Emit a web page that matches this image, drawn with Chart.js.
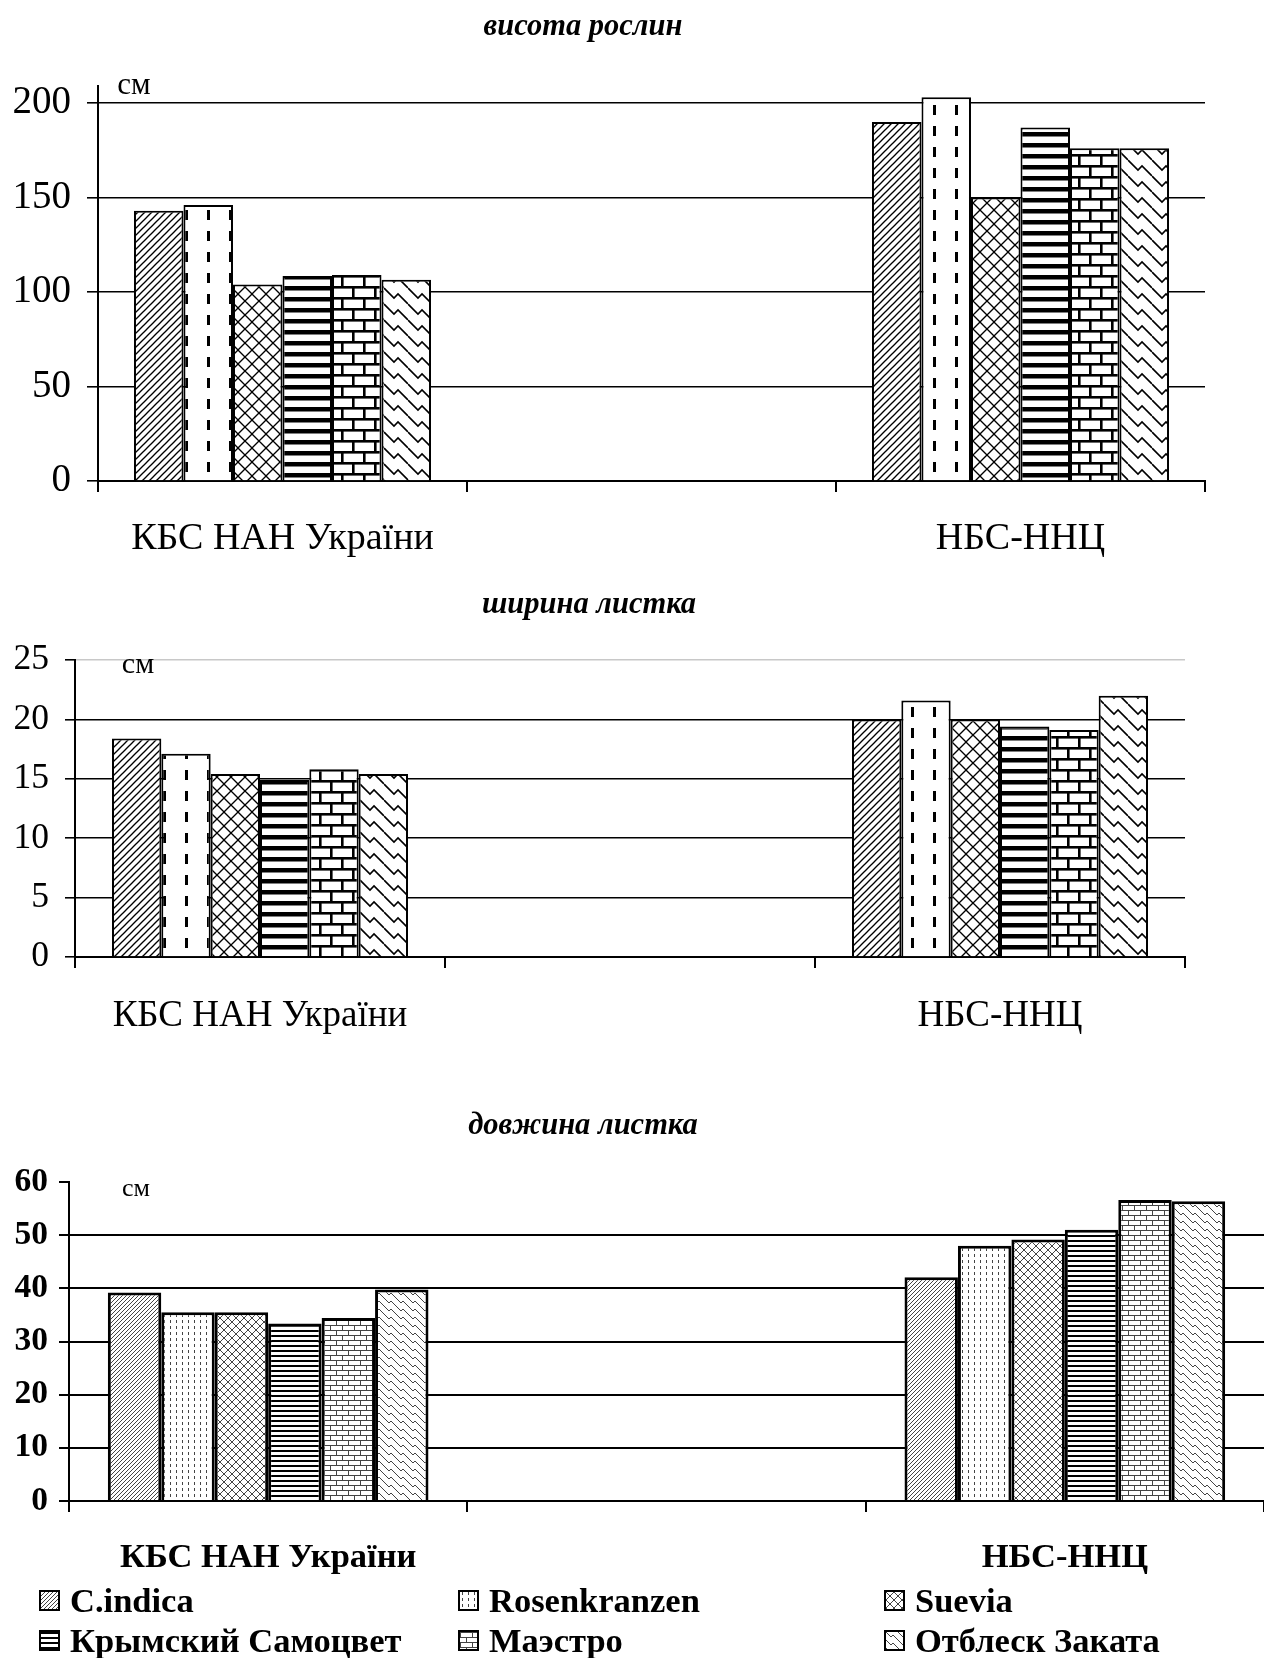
<!DOCTYPE html>
<html>
<head>
<meta charset="utf-8">
<script src="https://cdn.jsdelivr.net/npm/chart.js@4.4.1/dist/chart.umd.min.js"></script>
<style>
body { margin: 0; background: #fff; }
#page { position: relative; width: 1264px; height: 1658px; overflow: hidden; font-family: "Liberation Serif", serif; }
canvas.chart { position: absolute; left: 0; }
.item { position: absolute; display: flex; align-items: center; font-weight: bold; font-size: 34.5px; line-height: 1; white-space: nowrap; }
.item canvas { border: 2px solid #000; margin-right: 10px; }
</style>
</head>
<body>
<div id="page">
  <canvas id="c1" class="chart" width="1264" height="560" style="top:0"></canvas>
  <canvas id="c2" class="chart" width="1264" height="490" style="top:560px"></canvas>
  <canvas id="c3" class="chart" width="1264" height="608" style="top:1050px"></canvas>
</div>
<script>
// data
var groups = ['КБС НАН України', '', 'НБС-ННЦ'];
var varieties = ['C.indica', 'Rosenkranzen', 'Suevia', 'Крымский Самоцвет', 'Маэстро', 'Отблеск Заката'];

var heightKbs = [143, 146, 104, 108.5, 109, 106.5];
var heightNbs = [190, 203, 150, 187, 176, 176];

var widthKbs = [18.4, 17.1, 15.4, 14.9, 15.8, 15.4];
var widthNbs = [20.0, 21.6, 20.0, 19.4, 19.1, 22.0];

var lengthKbs = [39.2, 35.5, 35.5, 33.4, 34.4, 39.8];
var lengthNbs = [42.1, 48.0, 49.2, 51.0, 56.6, 56.4];

var serif = 'Liberation Serif';

// hatch fills
function tile(w, h, draw) {
  var c = document.createElement('canvas');
  c.width = w; c.height = h;
  var g = c.getContext('2d');
  g.fillStyle = '#fff';
  g.fillRect(0, 0, w, h);
  draw(g, w, h);
  return g.createPattern(c, 'repeat');
}
function seg(g, pts) {
  g.beginPath();
  g.moveTo(pts[0], pts[1]);
  for (var i = 2; i < pts.length; i += 2) g.lineTo(pts[i], pts[i + 1]);
  g.stroke();
}

function coarse(kind) {
  if (kind == 0) return tile(7, 7, function (g) {
    g.lineWidth = 1.3;
    seg(g, [0, 7, 7, 0]); seg(g, [-1, 1, 1, -1]); seg(g, [6, 8, 8, 6]);
  });
  if (kind == 1) return tile(22, 21, function (g) {
    g.fillStyle = '#000'; g.fillRect(9, 0, 3, 10);
  });
  if (kind == 2) return tile(14, 14, function (g) {
    g.lineWidth = 1.3;
    seg(g, [0, 0, 14, 14]); seg(g, [0, 14, 14, 0]);
  });
  if (kind == 3) return tile(4, 11, function (g) {
    g.fillStyle = '#000'; g.fillRect(0, 0, 4, 4.5);
  });
  if (kind == 4) return tile(22, 22, function (g) {
    g.lineWidth = 2.6;
    seg(g, [0, 1.3, 22, 1.3]); seg(g, [0, 12.3, 22, 12.3]);
    seg(g, [1.3, 0, 1.3, 11]); seg(g, [12.3, 11, 12.3, 22]);
  });
  return tile(24, 16, function (g) {
    g.lineWidth = 1.6;
    for (var dy = -16; dy <= 16; dy += 16) seg(g, [0, dy, 10, 10 + dy, 14, 6 + dy, 24, 16 + dy]);
  });
}

function fine(kind) {
  var ink = '#444';
  if (kind == 0) return tile(4, 4, function (g) {
    g.strokeStyle = ink; g.lineWidth = 1;
    seg(g, [0, 4, 4, 0]); seg(g, [-1, 1, 1, -1]); seg(g, [3, 5, 5, 3]);
  });
  if (kind == 1) return tile(6, 6, function (g) {
    g.fillStyle = ink; g.fillRect(2, 0, 1, 3);
  });
  if (kind == 2) return tile(8, 8, function (g) {
    g.strokeStyle = ink; g.lineWidth = 1;
    seg(g, [0, 0, 8, 8]); seg(g, [0, 8, 8, 0]);
  });
  if (kind == 3) return tile(4, 5, function (g) {
    g.fillStyle = '#000'; g.fillRect(0, 0, 4, 2);
  });
  if (kind == 4) return tile(12, 10, function (g) {
    g.strokeStyle = ink; g.lineWidth = 1;
    seg(g, [0, 0.5, 12, 0.5]); seg(g, [0, 5.5, 12, 5.5]);
    seg(g, [0.5, 0, 0.5, 5]); seg(g, [6.5, 5, 6.5, 10]);
  });
  return tile(12, 8, function (g) {
    g.strokeStyle = ink; g.lineWidth = 1;
    for (var dy = -8; dy <= 8; dy += 8) seg(g, [0, dy, 5, 5 + dy, 7, 3 + dy, 12, 8 + dy]);
  });
}

// titles, unit label
var decor = {
  id: 'decor',
  afterDraw: function (chart, args, o) {
    var ctx = chart.ctx, a = chart.chartArea;
    ctx.save();
    ctx.fillStyle = '#000';
    ctx.textAlign = 'center';
    ctx.textBaseline = 'middle';
    ctx.font = 'italic bold 30.5px "' + serif + '"';
    ctx.fillText(o.title, o.titleX, o.titleY);
    ctx.font = o.unitFont;
    ctx.fillText('см', o.unitX, o.unitY);
    if (o.overhang) {
      ctx.strokeStyle = '#000';
      ctx.lineWidth = 2;
      ctx.beginPath();
      ctx.moveTo(a.left, a.top);
      ctx.lineTo(a.left, a.top - o.overhang);
      ctx.stroke();
    }
    ctx.restore();
  }
};

function makeChart(id, kbs, nbs, s) {
  var datasets = varieties.map(function (name, i) {
    return {
      label: name,
      data: [kbs[i], null, nbs[i]],
      backgroundColor: s.fill(i),
      borderColor: '#000',
      borderWidth: s.border,
      borderSkipped: 'bottom',
      categoryPercentage: s.cat,
      barPercentage: 1,
      clip: false
    };
  });
  return new Chart(document.getElementById(id), {
    type: 'bar',
    data: { labels: groups, datasets: datasets },
    plugins: [decor],
    options: {
      responsive: false,
      animation: false,
      layout: { padding: s.pad },
      plugins: {
        legend: { display: false },
        title: { display: false },
        tooltip: { enabled: false },
        decor: s.decor
      },
      scales: {
        x: {
          offset: true,
          grid: { drawOnChartArea: false, offset: true, color: '#000', lineWidth: 2, tickLength: 11 },
          border: { color: '#000', width: 2 },
          ticks: { color: '#000', font: s.xFont, padding: s.xPad, maxRotation: 0, autoSkip: false },
          afterFit: function (sc) { sc.height = s.xHeight; }
        },
        y: {
          min: 0, max: s.max,
          ticks: { stepSize: s.step, color: '#000', font: s.yFont, padding: s.yPad },
          grid: {
            color: function (c) { return s.gridColor(c.tick.value); },
            lineWidth: s.gridWidth, tickLength: s.yTick, tickColor: '#000'
          },
          border: { color: '#000', width: 2 },
          afterFit: function (sc) { sc.width = s.yWidth; }
        }
      }
    }
  });
}

makeChart('c1', heightKbs, heightNbs, {
  fill: coarse, border: 2, cat: 0.805, max: 200, step: 50,
  pad: { left: 0, right: 59, top: 103, bottom: 0 },
  xHeight: 79, yWidth: 98, yTick: 11, yPad: 16, xPad: 24, gridWidth: 1.6,
  xFont: { family: serif, size: 38 }, yFont: { family: serif, size: 39 },
  gridColor: function () { return '#000'; },
  decor: { title: 'висота рослин', titleX: 583, titleY: 27, unitFont: '31px "' + serif + '"', unitX: 134, unitY: 86, overhang: 18 }
});

makeChart('c2', widthKbs, widthNbs, {
  fill: coarse, border: 2, cat: 0.80, max: 25, step: 5,
  pad: { left: 0, right: 79, top: 100, bottom: 0 },
  xHeight: 93, yWidth: 75, yTick: 10, yPad: 16, xPad: 26, gridWidth: 1.6,
  xFont: { family: serif, size: 37 }, yFont: { family: serif, size: 35.5 },
  gridColor: function (v) { return v === 25 ? '#c8c8c8' : '#000'; },
  decor: { title: 'ширина листка', titleX: 589, titleY: 45, unitFont: '30px "' + serif + '"', unitX: 138, unitY: 105 }
});

makeChart('c3', lengthKbs, lengthNbs, {
  fill: fine, border: 3, cat: 0.805, max: 60, step: 10,
  pad: { left: 0, right: 0, top: 132, bottom: 0 },
  xHeight: 157, yWidth: 69, yTick: 10, yPad: 11, xPad: 25, gridWidth: 2,
  xFont: { family: serif, size: 34.5, weight: 'bold' }, yFont: { family: serif, size: 33.5, weight: 'bold' },
  gridColor: function (v) { return v === 60 ? 'rgba(0,0,0,0)' : '#000'; },
  decor: { title: 'довжина листка', titleX: 583, titleY: 76, unitFont: '26px "' + serif + '"', unitX: 136, unitY: 139 }
});

// legend below the third chart, three columns
var legendCols = [39, 458, 884];
var legendRows = [1600, 1640];
var page = document.getElementById('page');
varieties.forEach(function (name, i) {
  var item = document.createElement('div');
  item.className = 'item';
  item.style.left = legendCols[i % 3] + 'px';
  item.style.top = (legendRows[Math.floor(i / 3)] - 17) + 'px';
  item.style.height = '34px';
  var sw = document.createElement('canvas');
  sw.width = 17; sw.height = 17;
  var g = sw.getContext('2d');
  g.fillStyle = fine(i);
  g.fillRect(0, 0, 17, 17);
  item.appendChild(sw);
  item.appendChild(document.createTextNode(name));
  page.appendChild(item);
});
</script>
</body>
</html>
